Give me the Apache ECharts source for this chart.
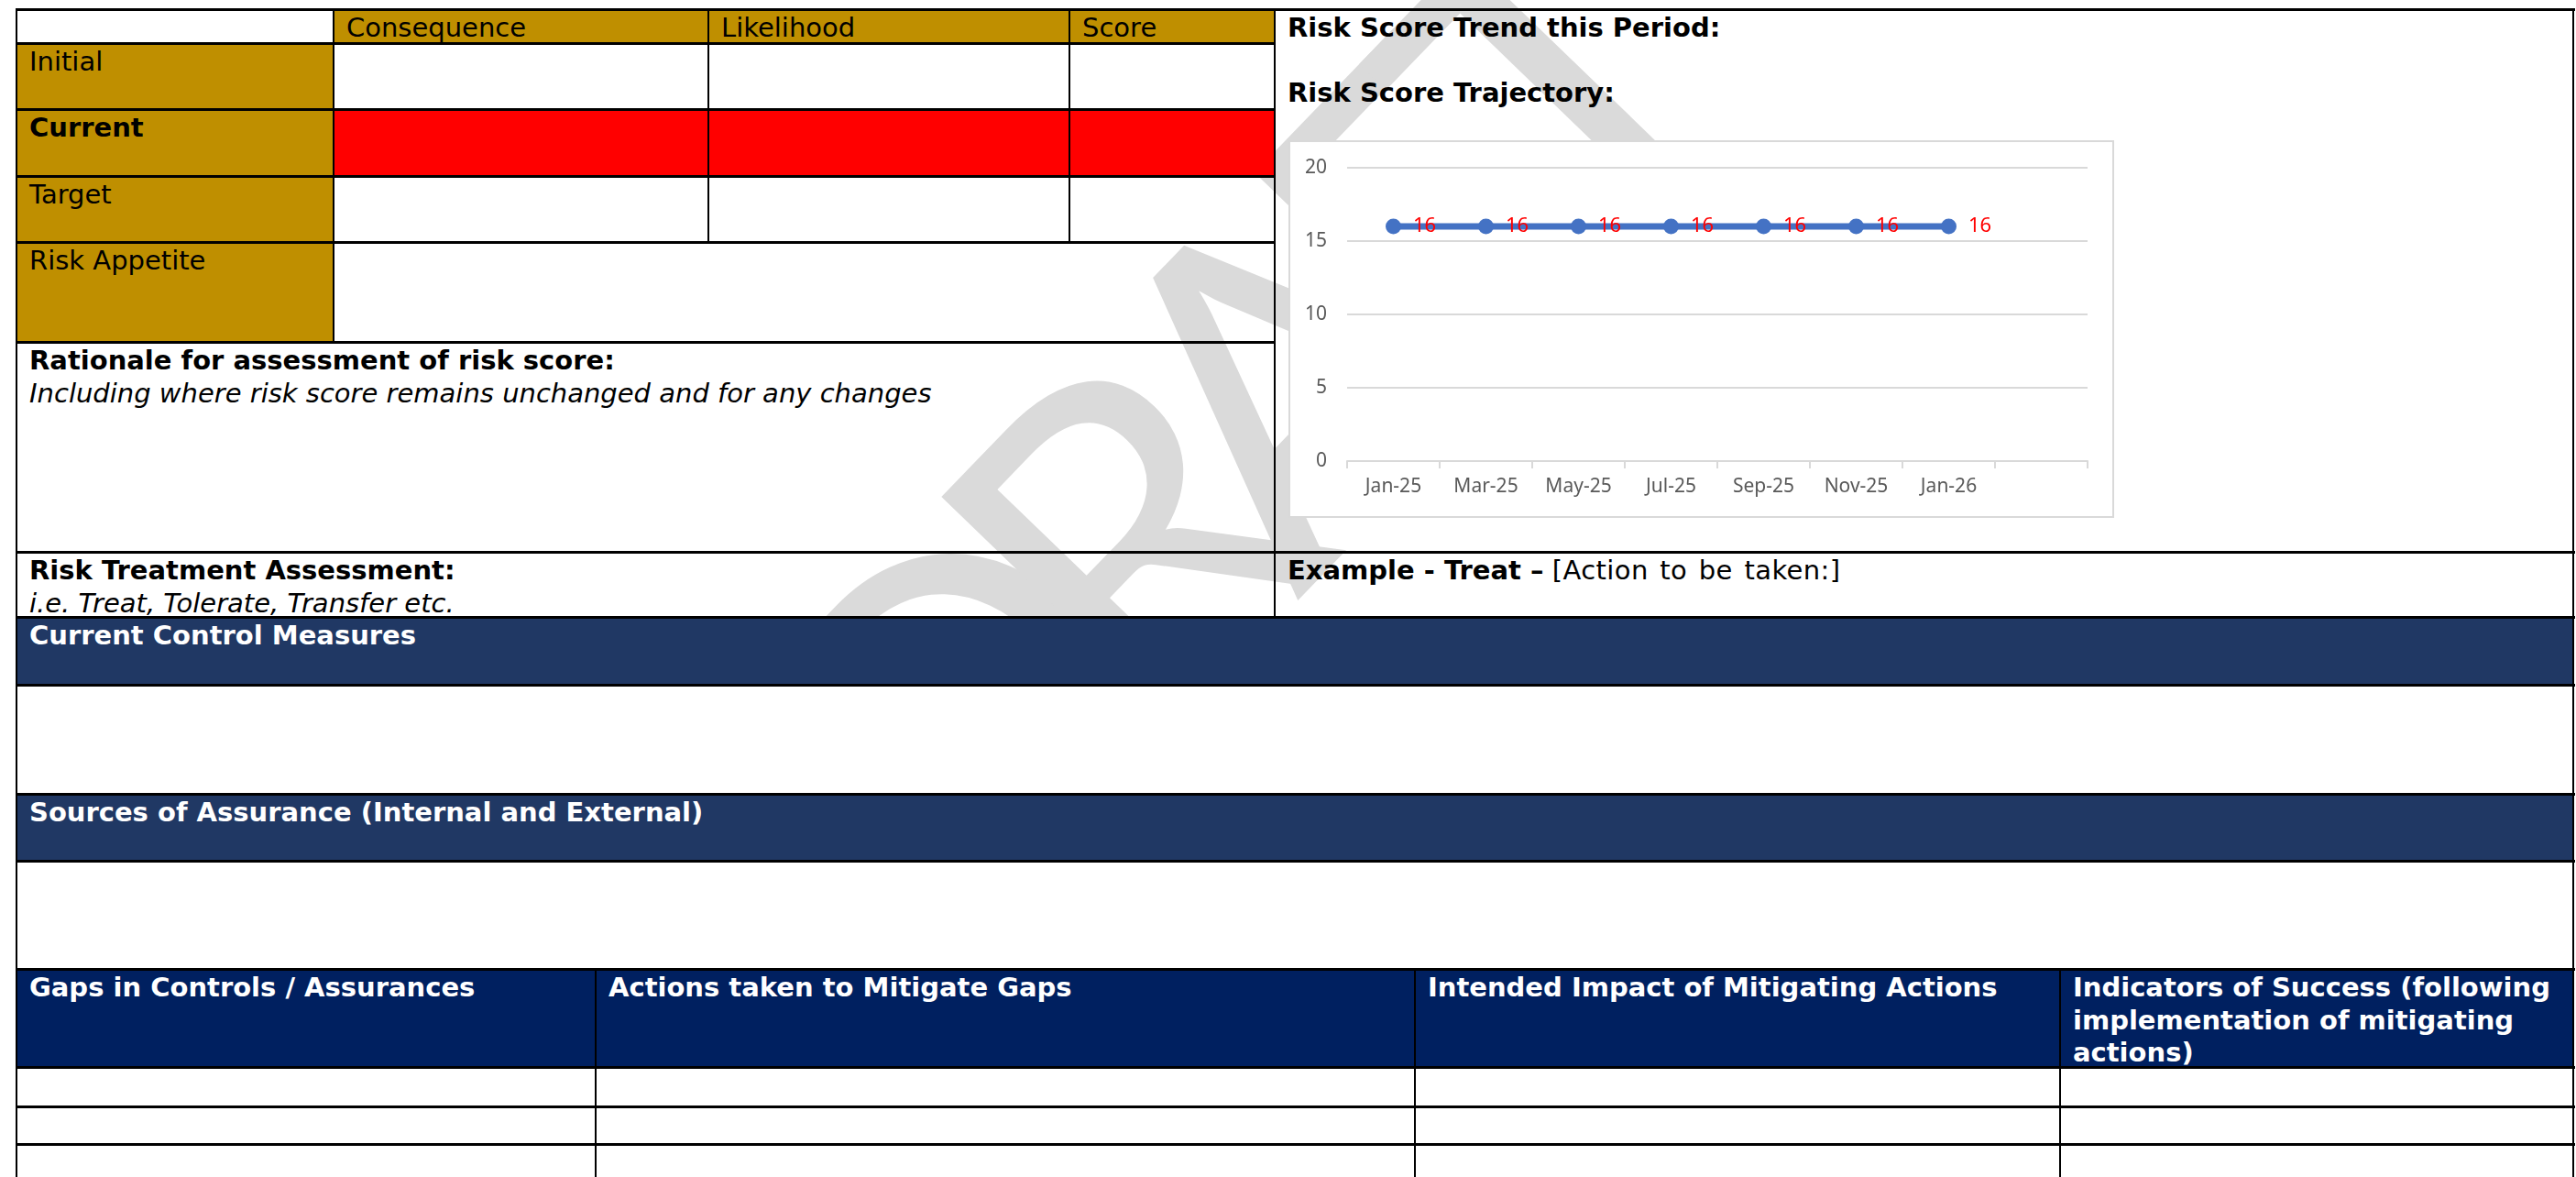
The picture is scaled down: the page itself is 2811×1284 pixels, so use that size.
<!DOCTYPE html>
<html>
<head>
<meta charset="utf-8">
<script src="https://cdn.jsdelivr.net/npm/echarts/dist/echarts.min.js"></script>
<style>
html,body{margin:0;padding:0;background:#fff;width:2811px;height:1284px;overflow:hidden;}
#page{position:relative;width:2811px;height:1284px;font-family:"DejaVu Sans",Verdana,sans-serif;font-size:29px;line-height:35.5px;color:#000;overflow:hidden;}
.c{position:absolute;box-sizing:border-box;padding:3px 0 0 14px;z-index:2;white-space:nowrap;}
.gold{background:#BF8F00;}
.red{background:#FF0000;}
.navy{background:#203864;color:#fff;font-weight:bold;}
.navy2{background:#002060;color:#fff;font-weight:bold;}
.h{position:absolute;background:#000;height:3px;z-index:4;}
.v{position:absolute;background:#000;width:2px;z-index:4;}
b{font-weight:bold;}
i{font-style:italic;}
#wm{position:absolute;z-index:1;left:726px;top:732px;transform-origin:0 0;transform:rotate(-46deg);font-family:Lato,"Noto Sans",sans-serif;font-size:500px;line-height:1;letter-spacing:-0.16em;color:#dadada;white-space:nowrap;}
#cover{position:absolute;z-index:1;left:0;top:673px;width:2811px;height:611px;background:#fff;}
#chart{position:absolute;left:1406px;top:153px;width:901px;height:412px;box-sizing:border-box;border:2px solid #d9d9d9;background:#fff;z-index:3;}
</style>
</head>
<body>
<div id="page">
  <div id="wm">DRAFT</div>
  <div id="cover"></div>

  <!-- top-left risk score block -->
  <div class="c" style="left:18px;top:10px;width:346px;height:37px;"></div>
  <div class="c gold" style="left:364px;top:10px;width:409px;height:37px;">Consequence</div>
  <div class="c gold" style="left:773px;top:10px;width:394px;height:37px;">Likelihood</div>
  <div class="c gold" style="left:1167px;top:10px;width:224px;height:37px;">Score</div>

  <div class="c gold" style="left:18px;top:47px;width:346px;height:72px;">Initial</div>
  <div class="c gold" style="left:18px;top:119px;width:346px;height:73px;"><b>Current</b></div>
  <div class="c red" style="left:364px;top:119px;width:1027px;height:73px;"></div>
  <div class="c gold" style="left:18px;top:192px;width:346px;height:72px;">Target</div>
  <div class="c gold" style="left:18px;top:264px;width:346px;height:109px;">Risk Appetite</div>

  <div class="c" style="left:18px;top:373px;width:1373px;height:229px;"><b>Rationale for assessment of risk score:</b><br><i>Including where risk score remains unchanged and for any changes</i></div>
  <div class="c" style="left:18px;top:602px;width:1373px;height:71px;"><b>Risk Treatment Assessment:</b><br><i>i.e. Treat, Tolerate, Transfer etc.</i></div>

  <!-- right block -->
  <div class="c" style="left:1391px;top:10px;width:1417px;height:592px;"><b>Risk Score Trend this Period:</b><br><br><b>Risk Score Trajectory:</b></div>
  <div class="c" style="left:1391px;top:602px;width:1417px;height:71px;"><b>Example - Treat –</b> <span style="word-spacing:3px;letter-spacing:0.4px">[Action to be taken:]</span></div>

  <!-- full-width bands -->
  <div class="c navy" style="left:18px;top:673px;width:2790px;height:74px;">Current Control Measures</div>
  <div class="c navy" style="left:18px;top:866px;width:2790px;height:73px;">Sources of Assurance (Internal and External)</div>

  <div class="c navy2" style="left:18px;top:1057px;width:632px;height:107px;">Gaps in Controls / Assurances</div>
  <div class="c navy2" style="left:650px;top:1057px;width:894px;height:107px;">Actions taken to Mitigate Gaps</div>
  <div class="c navy2" style="left:1544px;top:1057px;width:704px;height:107px;">Intended Impact of Mitigating Actions</div>
  <div class="c navy2" style="left:2248px;top:1057px;width:560px;height:107px;">Indicators of Success (following<br>implementation of mitigating<br>actions)</div>

  <!-- horizontal lines -->
  <div class="h" style="left:17px;top:9px;width:2793px;"></div>
  <div class="h" style="left:17px;top:46px;width:1375px;"></div>
  <div class="h" style="left:17px;top:118px;width:1375px;"></div>
  <div class="h" style="left:17px;top:191px;width:1375px;"></div>
  <div class="h" style="left:17px;top:263px;width:1375px;"></div>
  <div class="h" style="left:17px;top:372px;width:1375px;"></div>
  <div class="h" style="left:17px;top:601px;width:2793px;"></div>
  <div class="h" style="left:17px;top:672px;width:2793px;"></div>
  <div class="h" style="left:17px;top:746px;width:2793px;"></div>
  <div class="h" style="left:17px;top:865px;width:2793px;"></div>
  <div class="h" style="left:17px;top:938px;width:2793px;"></div>
  <div class="h" style="left:17px;top:1056px;width:2793px;"></div>
  <div class="h" style="left:17px;top:1163px;width:2793px;"></div>
  <div class="h" style="left:17px;top:1206px;width:2793px;"></div>
  <div class="h" style="left:17px;top:1247px;width:2793px;"></div>

  <!-- vertical lines -->
  <div class="v" style="left:17px;top:9px;height:1275px;"></div>
  <div class="v" style="left:2807px;top:9px;height:1275px;"></div>
  <div class="v" style="left:363px;top:9px;height:364px;"></div>
  <div class="v" style="left:772px;top:9px;height:255px;"></div>
  <div class="v" style="left:1166px;top:9px;height:255px;"></div>
  <div class="v" style="left:1390px;top:9px;height:664px;"></div>
  <div class="v" style="left:649px;top:1057px;height:227px;"></div>
  <div class="v" style="left:1543px;top:1057px;height:227px;"></div>
  <div class="v" style="left:2247px;top:1057px;height:227px;"></div>

  <div id="chart"></div>
</div>
<script>
// ---- chart data ----
const months = ['Jan-25', 'Mar-25', 'May-25', 'Jul-25', 'Sep-25', 'Nov-25', 'Jan-26', ''];
const riskScores = [16, 16, 16, 16, 16, 16, 16];
const yMin = 0;
const yMax = 20;
const yStep = 5;

const chart = echarts.init(document.getElementById('chart'), null, {renderer: 'canvas'});
const axisFont = '"Noto Sans", sans-serif';
chart.setOption({
  animation: false,
  backgroundColor: '#ffffff',
  grid: {left: 62, right: 27, top: 28, bottom: 60, containLabel: false},
  xAxis: {
    type: 'category',
    data: months,
    boundaryGap: true,
    axisLine: {show: true, lineStyle: {color: '#d9d9d9', width: 2}},
    axisTick: {show: true, length: 8, alignWithLabel: false, lineStyle: {color: '#d9d9d9', width: 2}},
    axisLabel: {interval: 0, color: '#595959', fontFamily: axisFont, fontSize: 21, margin: 18},
    splitLine: {show: false}
  },
  yAxis: {
    type: 'value',
    min: yMin,
    max: yMax,
    interval: yStep,
    axisLine: {show: false},
    axisTick: {show: false},
    axisLabel: {color: '#595959', fontFamily: axisFont, fontSize: 21, margin: 22},
    splitLine: {show: true, lineStyle: {color: '#d9d9d9', width: 2}}
  },
  series: [{
    type: 'line',
    data: riskScores,
    symbol: 'circle',
    symbolSize: 17,
    lineStyle: {color: '#4472C4', width: 7},
    itemStyle: {color: '#4472C4'},
    label: {show: true, position: 'right', distance: 13, color: '#FF0000', fontFamily: axisFont, fontSize: 22}
  }]
});
</script>
</body>
</html>
